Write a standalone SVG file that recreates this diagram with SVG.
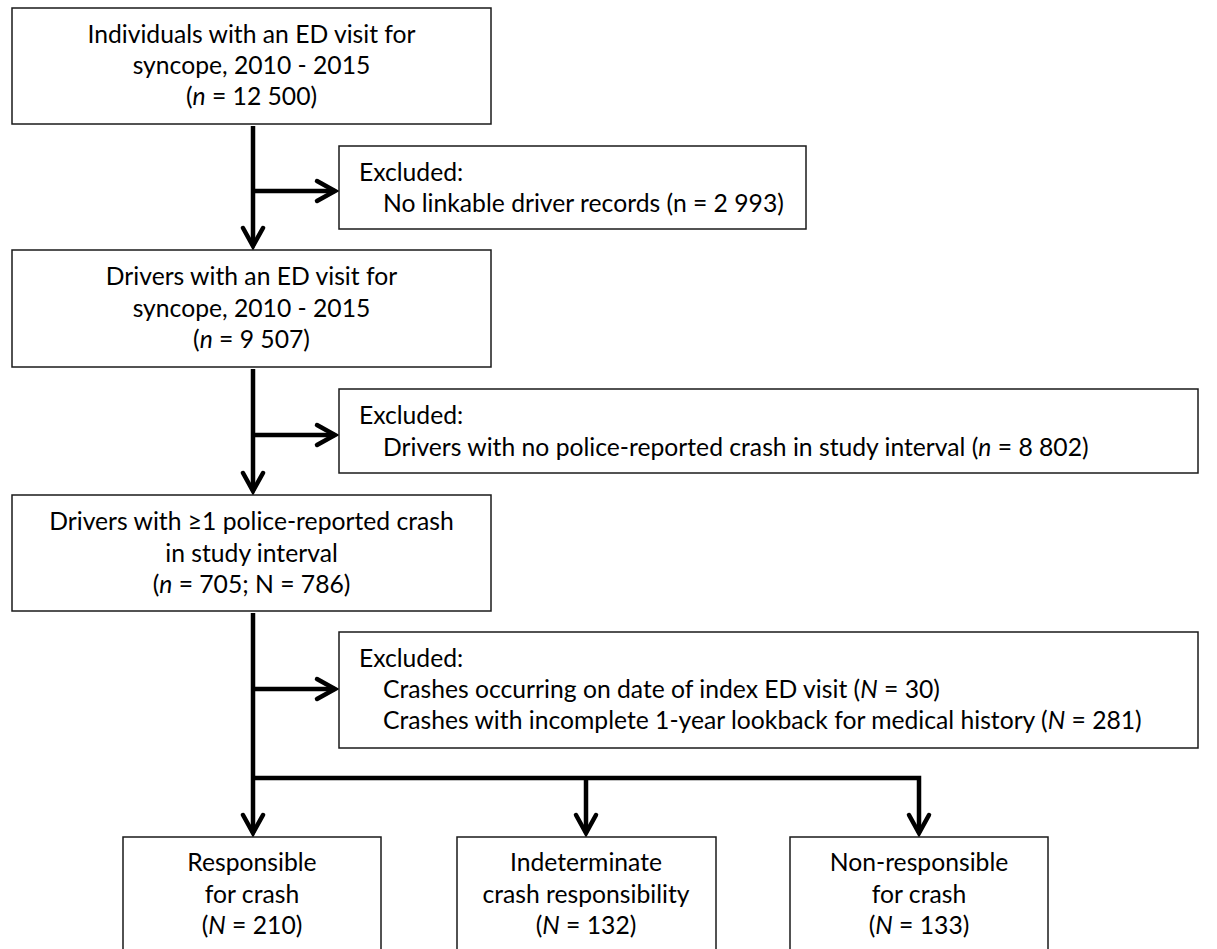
<svg xmlns="http://www.w3.org/2000/svg" width="1217" height="949" viewBox="0 0 1217 949">
<style>
.box{fill:#fff;stroke:#1a1a1a;stroke-width:1.5}
.t{font-family:Lato,"Open Sans","Liberation Sans",sans-serif;font-size:24.7px;fill:#000}
.c{text-anchor:middle}
.i{font-style:italic}
.conn{fill:none;stroke:#000;stroke-width:4.5;stroke-linejoin:miter}
</style>
<defs>
<marker id="ah" markerUnits="userSpaceOnUse" viewBox="-26 -14 32 28" markerWidth="32" markerHeight="28" refX="0" refY="0" orient="auto" overflow="visible">
<path d="M-18,-10 L0,0 L-18,10" fill="none" stroke="#000" stroke-width="4.5" stroke-linecap="round" stroke-linejoin="miter"/>
</marker>
</defs>
<rect width="1217" height="949" fill="#fff"/>
<g id="connectors">
<path class="conn" d="M253,126 V246" marker-end="url(#ah)"/>
<path class="conn" d="M253,191 H335" marker-end="url(#ah)"/>
<path class="conn" d="M253,369 V491" marker-end="url(#ah)"/>
<path class="conn" d="M253,435 H335" marker-end="url(#ah)"/>
<path class="conn" d="M253,613 V833" marker-end="url(#ah)"/>
<path class="conn" d="M253,689 H335" marker-end="url(#ah)"/>
<path class="conn" d="M253,778 H919 V833" marker-end="url(#ah)"/>
<path class="conn" d="M586,778 V833" marker-end="url(#ah)"/>
</g>
<g id="node-individuals">
<rect class="box" x="12" y="8" width="479" height="116"/>
<text class="t c" x="251.5" y="43">Individuals with an ED visit for</text>
<text class="t c" x="251.5" y="74">syncope, 2010 - 2015</text>
<text class="t c" x="251.5" y="105">(<tspan class="i">n</tspan> = 12 500)</text>
</g>
<g id="node-excluded1">
<rect class="box" x="339" y="146" width="467" height="83"/>
<text class="t" x="359" y="180.5">Excluded:</text>
<text class="t" x="383" y="211.5">No linkable driver records (n = 2 993)</text>
</g>
<g id="node-drivers">
<rect class="box" x="12" y="250" width="479" height="117"/>
<text class="t c" x="251.5" y="285">Drivers with an ED visit for</text>
<text class="t c" x="251.5" y="316.5">syncope, 2010 - 2015</text>
<text class="t c" x="251.5" y="348">(<tspan class="i">n</tspan> = 9 507)</text>
</g>
<g id="node-excluded2">
<rect class="box" x="339" y="389" width="859" height="84"/>
<text class="t" x="359" y="423.5">Excluded:</text>
<text class="t" x="383" y="455.5">Drivers with no police-reported crash in study interval (<tspan class="i">n</tspan> = 8 802)</text>
</g>
<g id="node-crash">
<rect class="box" x="12" y="495" width="479" height="116"/>
<text class="t c" x="251.5" y="530">Drivers with ≥1 police-reported crash</text>
<text class="t c" x="251.5" y="561.5">in study interval</text>
<text class="t c" x="251.5" y="593">(<tspan class="i">n</tspan> = 705; N = 786)</text>
</g>
<g id="node-excluded3">
<rect class="box" x="339" y="632" width="859" height="116"/>
<text class="t" x="359" y="667">Excluded:</text>
<text class="t" x="383" y="698">Crashes occurring on date of index ED visit (<tspan class="i">N</tspan> = 30)</text>
<text class="t" x="383" y="729">Crashes with incomplete 1-year lookback for medical history (<tspan class="i">N</tspan> = 281)</text>
</g>
<g id="node-responsible">
<rect class="box" x="123" y="837" width="258" height="130"/>
<text class="t c" x="252" y="871">Responsible</text>
<text class="t c" x="252" y="903">for crash</text>
<text class="t c" x="252" y="934">(<tspan class="i">N</tspan> = 210)</text>
</g>
<g id="node-indeterminate">
<rect class="box" x="457" y="837" width="259" height="130"/>
<text class="t c" x="586" y="871">Indeterminate</text>
<text class="t c" x="586" y="903">crash responsibility</text>
<text class="t c" x="586" y="934">(<tspan class="i">N</tspan> = 132)</text>
</g>
<g id="node-nonresponsible">
<rect class="box" x="790" y="837" width="258" height="130"/>
<text class="t c" x="919" y="871">Non-responsible</text>
<text class="t c" x="919" y="903">for crash</text>
<text class="t c" x="919" y="934">(<tspan class="i">N</tspan> = 133)</text>
</g>
</svg>
